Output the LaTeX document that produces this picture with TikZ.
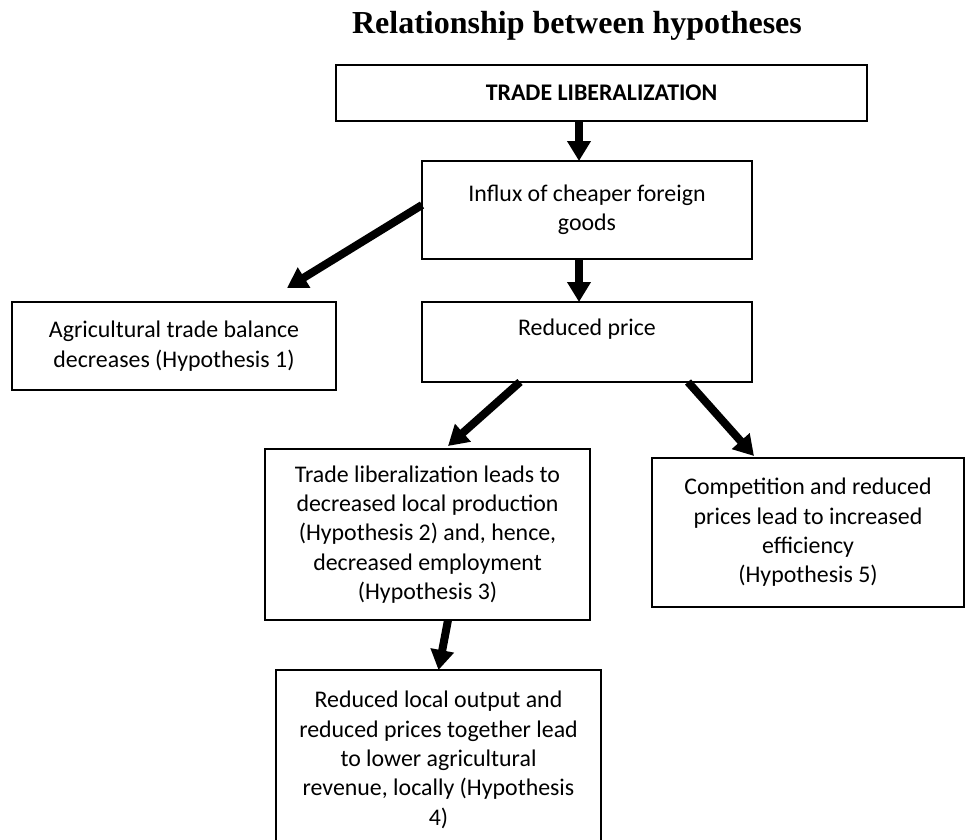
\documentclass[tikz,border=0pt]{standalone}
\usepackage{fontspec}
\setmainfont{Carlito}
\newfontfamily\titlefont{Liberation Serif}
\usepackage{tikz}
\usetikzlibrary{calc, arrows.meta}

\tikzset{
	hypbox/.style={draw, line width=0.8pt, outer sep=0pt, inner sep=4pt, align=center,
		font=\fontsize{17.9}{22}\selectfont, execute at begin node={\spaceskip=\fontdimen2\font\relax}},
	fatarrow/.style={->, line width=6pt}
}

\begin{document}
\begin{tikzpicture}[>={Triangle[length=15pt,width=17pt]}, x=0.75pt, y=-0.75pt]
		\useasboundingbox (0,0) rectangle (966,839);
		\node (title) [anchor=base] at (577,33) {\titlefont\bfseries\fontsize{24}{28}\selectfont Relationship between hypotheses};
		
		\node (trade) [hypbox, minimum width=398.25pt, minimum height=42pt, font=\fontsize{17.9}{22}\selectfont\bfseries] at (601.5,93) {TRADE LIBERALIZATION};
		\node (influx) [hypbox, minimum width=247.5pt, minimum height=73.5pt] at (587,210) {Influx of cheaper foreign\\goods};
		\node (price) [hypbox, minimum width=247.5pt, minimum height=60pt] at (587,342) {Reduced price\\~};
		\node (balance) [hypbox, minimum width=243pt, minimum height=66pt] at (174,346) {Agricultural trade balance\\decreases (Hypothesis 1)};
		\node (production) [hypbox, minimum width=243.75pt, minimum height=128.25pt] at (427.5,534.5) {Trade liberalization leads to\\decreased local production\\(Hypothesis 2) and, hence,\\decreased employment\\(Hypothesis 3)};
		\node (efficiency) [hypbox, minimum width=234pt, minimum height=111.75pt] at (808,532.5) {Competition and reduced\\prices lead to increased\\efficiency\\(Hypothesis 5)};
		\node (revenue) [hypbox, minimum width=243.75pt, minimum height=135pt] at (438.5,760) {Reduced local output and\\reduced prices together lead\\to lower agricultural\\revenue, locally (Hypothesis\\4)};
		
		% arrows between the boxes
		\draw[fatarrow] ($(trade.south)+(-22.5,0)$) -- ($(influx.north)+(-8,0)$);
		\draw[fatarrow] ($(influx.south)+(-8,0)$) -- ($(price.north)+(-8,0)$);
		\draw[fatarrow] ($(influx.west)+(0,-5)$) -- ($(balance.north east)+(-49,-14)$);
		\draw[fatarrow] ($(price.south)+(-67,0)$) -- ($(production.north)+(20.5,-3)$);
		\draw[fatarrow] ($(price.south)+(101,0)$) -- ($(efficiency.north)+(-54,-2)$);
		\draw[fatarrow] ($(production.south)+(20.5,0)$) -- (revenue.north);
\end{tikzpicture}
\end{document}
